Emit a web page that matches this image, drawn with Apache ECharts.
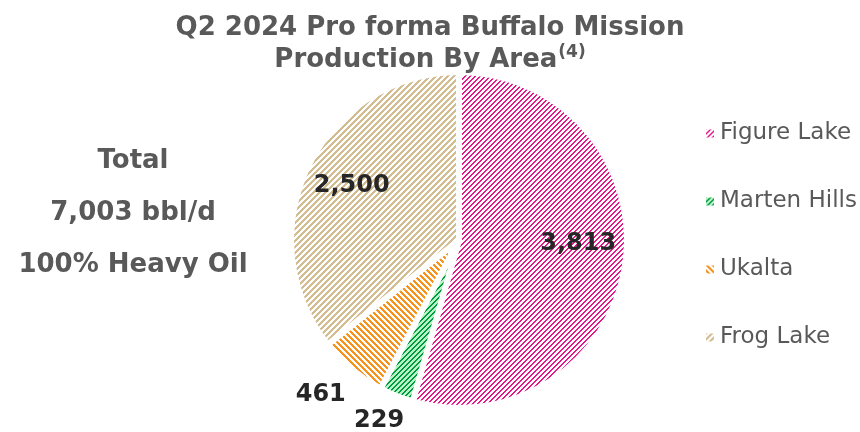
<!DOCTYPE html>
<html>
<head>
<meta charset="utf-8">
<script src="https://cdn.jsdelivr.net/npm/echarts@6/dist/echarts.min.js"></script>
<style>
  html, body { margin: 0; padding: 0; background: #fff; }
  #main { width: 860px; height: 432px; }
</style>
</head>
<body>
<div id="main"></div>
<script>
// 各区域产量 (bbl/d)
var areas = ['Figure Lake', 'Marten Hills', 'Ukalta', 'Frog Lake'];
var production = [3813, 229, 461, 2500];
var summaryLines = ['Total', '7,003 bbl/d', '100% Heavy Oil'];

// 每块的填充纹理：小画布拼贴
function makeTile(size, bg, fg, test) {
  var c = document.createElement('canvas');
  c.width = size;
  c.height = size;
  var ctx = c.getContext('2d');
  ctx.fillStyle = bg;
  ctx.fillRect(0, 0, size, size);
  ctx.fillStyle = fg;
  for (var y = 0; y < size; y++) {
    for (var x = 0; x < size; x++) {
      if (test(x, y)) ctx.fillRect(x, y, 1, 1);
    }
  }
  return { image: c, repeat: 'repeat' };
}

var thinUp = function (x, y) { return (x + y) % 5 < 2; };
var patterns = [
  makeTile(10, '#ffffff', '#e4168a', thinUp),
  makeTile(10, '#b6f3c6', '#009a3e', thinUp),
  makeTile(12, '#ffffff', '#f7921c', function (x, y) { return (x - y + 12) % 6 < 3; }),
  makeTile(12, '#ffffff', '#d3bc90', function (x, y) { return (x + y) % 6 < 3; })
];

// 标签位置微调
var labelSetup = [
  { position: 'inside', offset: [33, -8] },
  { position: 'outside', offset: [21, 4] },
  { position: 'outside', offset: [13, 8] },
  { position: 'inside', offset: [-29, -16] }
];

var chart = echarts.init(document.getElementById('main'));

var seriesData = areas.map(function (name, i) {
  return {
    name: name,
    value: production[i],
    itemStyle: { color: patterns[i] },
    label: labelSetup[i]
  };
});

var option = {
  animation: false,
  title: {
    left: 'center',
    top: 7,
    text: '{a|Q2 2024 Pro forma Buffalo Mission}\n{a|Production By Area}{s|(4)}',
    textStyle: {
      rich: {
        a: { fontFamily: 'DejaVu Sans', fontWeight: 'bold', fontSize: 26, color: '#595959', lineHeight: 32 },
        s: { fontFamily: 'DejaVu Sans', fontWeight: 'bold', fontSize: 17, color: '#595959', lineHeight: 32, padding: [0, 0, 14, 1] }
      }
    }
  },
  graphic: [{
    type: 'text',
    x: 133,
    y: 213,
    style: {
      text: summaryLines.join('\n'),
      fontFamily: 'DejaVu Sans',
      fontWeight: 'bold',
      fontSize: 26,
      lineHeight: 52,
      fill: '#595959',
      align: 'center',
      verticalAlign: 'middle'
    }
  }],
  legend: {
    orient: 'vertical',
    left: 699,
    top: 117,
    icon: 'rect',
    itemWidth: 10,
    itemHeight: 10,
    itemGap: 45,
    selectedMode: false,
    data: areas,
    textStyle: { fontFamily: 'DejaVu Sans', fontSize: 23, color: '#595959' }
  },
  series: [{
    type: 'pie',
    center: [459, 240],
    radius: 168,
    startAngle: 90,
    clockwise: true,
    avoidLabelOverlap: false,
    itemStyle: { borderColor: '#ffffff', borderWidth: 6 },
    label: {
      fontFamily: 'DejaVu Sans',
      fontWeight: 'bold',
      fontSize: 24,
      color: '#262626',
      formatter: function (p) { return p.value.toLocaleString('en-US'); }
    },
    labelLine: { show: false, length: 22, length2: 0 },
    emphasis: { disabled: true },
    data: seriesData
  }]
};

chart.setOption(option);
</script>
</body>
</html>
